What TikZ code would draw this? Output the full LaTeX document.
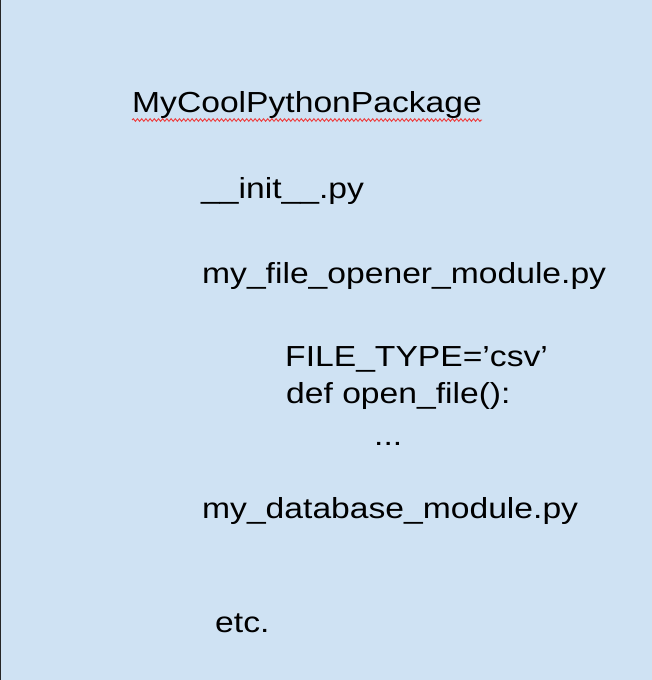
\documentclass[tikz,border=0pt]{standalone}
\usepackage{fontspec}
\setmainfont{Liberation Sans}[FakeStretch=1.16]
\usetikzlibrary{decorations.pathmorphing}
\definecolor{sheet}{HTML}{CFE2F3}
\definecolor{spellred}{HTML}{EE3B3B}
\begin{document}
\begin{tikzpicture}[x=1pt,y=-1pt,
  txt/.style={anchor=base west, inner sep=0pt, font=\fontsize{29}{35}\selectfont},
  spell/.style={spellred, line width=0.9pt, decorate,
    decoration={snake, amplitude=1.3pt, segment length=4.2pt}}]
% slide background with its left edge
\fill[sheet] (0,0) rectangle (652,680);
\useasboundingbox (0,0) rectangle (652,680);
\draw[line width=1.2pt, black!85] (0.6,0) -- (0.6,680);

% package tree
\node[txt] (pkg)    at (132,112) {MyCoolPythonPackage};
\node[txt] (init)   at (201,198) {\_\_init\_\_.py};
\node[txt] (opener) at (202,283) {my\_file\_opener\_module.py};
\node[txt] (ftype)  at (285,366) {FILE\_TYPE=’csv’};
\node[txt] (deff)   at (286,403) {def open\_file():};
\node[txt] (dots)   at (374,445) {...};
\node[txt] (db)     at (202,518) {my\_database\_module.py};
\node[txt] (etc)    at (215,632) {etc.};

% spell-check underline
\draw[spell] ([yshift=-8pt]pkg.base west) -- ([yshift=-8pt]pkg.base east);
\end{tikzpicture}
\end{document}
